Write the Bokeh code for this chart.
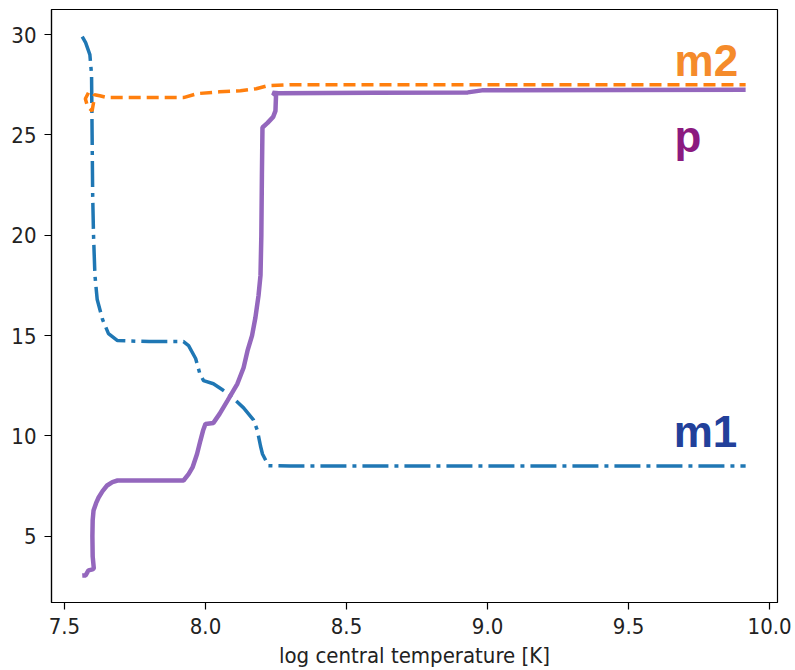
from bokeh.plotting import figure
from bokeh.models import Range1d, FixedTicker, PrintfTickFormatter
from bokeh.embed import file_html
from bokeh.resources import INLINE
from bokeh.core.properties import value

# ---- data ----
m1_x = [7.563, 7.575, 7.590, 7.596, 7.598, 7.600, 7.603, 7.608, 7.616, 7.635, 7.656, 7.688,
        7.800, 7.922, 7.940, 7.965, 7.980, 7.993, 8.028, 8.060, 8.089, 8.135, 8.170, 8.184,
        8.195, 8.202, 8.223, 8.300, 9.000, 9.915]
m1_y = [29.9, 29.6, 29.0, 28.0, 25.0, 22.0, 20.0, 18.0, 16.8, 15.8, 15.1, 14.75,
        14.7, 14.7, 14.5, 13.86, 13.1, 12.76, 12.6, 12.3, 12.0, 11.4, 10.8, 10.27,
        9.5, 9.1, 8.52, 8.5, 8.5, 8.5]

m2_x = [7.585, 7.574, 7.582, 7.598, 7.603, 7.606, 7.625, 7.652, 7.800, 7.922, 7.972,
        8.050, 8.124, 8.180, 8.220, 8.300, 9.915]
m2_y = [27.1, 26.8, 26.4, 26.2, 26.6, 27.0, 26.95, 26.86, 26.86, 26.86, 27.06,
        27.15, 27.2, 27.3, 27.45, 27.5, 27.5]

p_x = [7.563, 7.575, 7.585, 7.600, 7.604, 7.600, 7.599, 7.600, 7.603, 7.612, 7.621, 7.635,
       7.651, 7.670, 7.688, 7.800, 7.922, 7.940, 7.954, 7.970, 7.982, 7.992, 8.000, 8.028,
       8.050, 8.078, 8.113, 8.135, 8.149, 8.165, 8.177, 8.188, 8.195, 8.198, 8.200, 8.202,
       8.220, 8.240, 8.248, 8.250, 8.238, 8.260, 8.600, 8.930, 8.980, 9.915]
p_y = [3.04, 3.05, 3.3, 3.35, 3.4, 4.0, 5.0, 5.8, 6.28, 6.65, 6.93, 7.25,
       7.53, 7.70, 7.78, 7.78, 7.78, 8.1, 8.43, 9.1, 9.77, 10.3, 10.6, 10.65,
       11.1, 11.76, 12.6, 13.4, 14.25, 15.0, 15.9, 17.0, 18.0, 20.0, 23.0, 25.37,
       25.6, 25.9, 26.2, 26.96, 27.1, 27.08, 27.1, 27.12, 27.22, 27.25]

label_names = ["m2", "p", "m1"]
label_x = [9.663, 9.663, 9.66]
label_y = [28.70, 24.92, 10.22]
label_colors = ["#f58b2b", "#8b1a80", "#22409a"]

x_ticks = [7.5, 8.0, 8.5, 9.0, 9.5, 10.0]
y_ticks = [5, 10, 15, 20, 25, 30]

FONT = "DejaVu Sans Condensed"

p = figure(width=795, height=670, output_backend="svg", toolbar_location=None,
           x_range=Range1d(7.454, 10.028), y_range=Range1d(1.7, 31.25),
           min_border_left=51, min_border_right=18, min_border_top=9, min_border_bottom=68)

p.line(m1_x, m1_y, line_color="#1f77b4", line_width=3.5, line_dash="26 6 4 6")
p.line(m2_x, m2_y, line_color="#ff7f0e", line_width=3.5, line_dash="12 6")
p.line(p_x, p_y, line_color="#9467bd", line_width=4.5)

p.text(x=label_x, y=label_y, text=label_names, text_color=label_colors,
       text_font=value("Liberation Sans"), text_font_style="bold",
       text_font_size="44px", text_align="left", text_baseline="alphabetic")

p.xgrid.visible = False
p.ygrid.visible = False
p.outline_line_color = "black"
p.outline_line_width = 1.2
p.outline_line_alpha = 1.0

p.xaxis.ticker = FixedTicker(ticks=x_ticks)
p.yaxis.ticker = FixedTicker(ticks=y_ticks)
p.xaxis.formatter = PrintfTickFormatter(format="%.1f")
p.xaxis.axis_label = "log central temperature [K]"
for ax in (p.xaxis, p.yaxis):
    ax.axis_line_color = "black"
    ax.axis_line_width = 1.2
    ax.major_tick_line_color = "black"
    ax.major_tick_line_width = 1.2
    ax.major_tick_out = 7
    ax.major_tick_in = 0
    ax.minor_tick_line_color = None
    ax.major_label_text_font = FONT
    ax.major_label_text_font_size = "22px"
    ax.major_label_text_color = "#222222"
    ax.major_label_standoff = 8
    ax.axis_label_text_font = FONT
    ax.axis_label_text_font_size = "22px"
    ax.axis_label_text_font_style = "normal"
    ax.axis_label_text_color = "#222222"
    ax.axis_label_standoff = 6

open("out.html", "w").write(file_html(p, INLINE))
